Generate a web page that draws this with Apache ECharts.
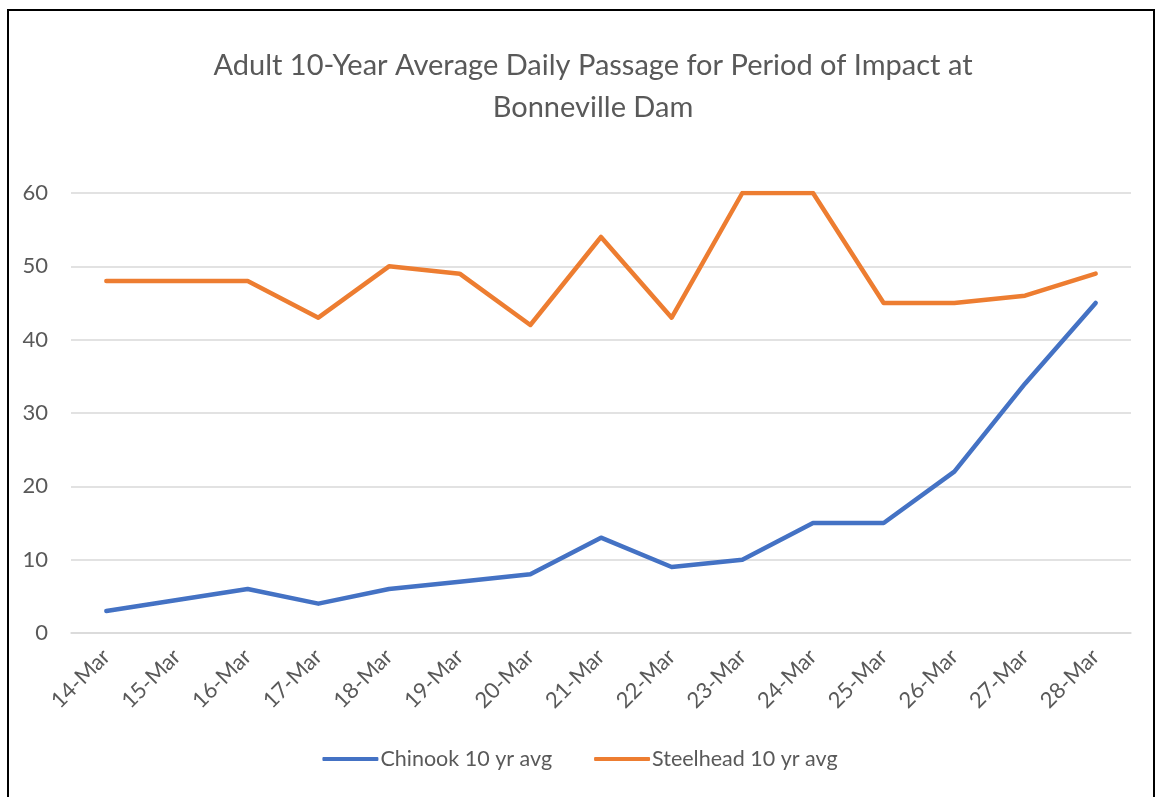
<html>
<head>
    <title>Bonneville Dam</title>
    <meta charset="utf-8" />
    <style>
        body { margin: 0; background: #fff; }
        #frame { position: absolute; left: 7px; top: 9px; width: 1144px; height: 800px; border: 2px solid #000; }
        #main { position: absolute; left: 0; top: 0; width: 1160px; height: 797px; }
    </style>
</head>
<body>
    <div id="frame"></div>
    <div id="main"></div>
    <script src="https://cdn.jsdelivr.net/npm/echarts@6/dist/echarts.min.js"></script>
    <script type="text/javascript">
        var days = ['14-Mar', '15-Mar', '16-Mar', '17-Mar', '18-Mar', '19-Mar', '20-Mar', '21-Mar',
            '22-Mar', '23-Mar', '24-Mar', '25-Mar', '26-Mar', '27-Mar', '28-Mar'];
        var chinook = [3, 4.5, 6, 4, 6, 7, 8, 13, 9, 10, 15, 15, 22, 34, 45];
        var steelhead = [48, 48, 48, 43, 50, 49, 42, 54, 43, 60, 60, 45, 45, 46, 49];

        var myChart = echarts.init(document.getElementById('main'));
        var textColor = '#595959';
        var font = 'Lato, "Open Sans", sans-serif';

        var option = {
            animation: false,
            title: {
                text: 'Adult 10-Year Average Daily Passage for Period of Impact at\nBonneville Dam',
                left: 588,
                textAlign: 'center',
                top: 40,
                textStyle: {
                    color: textColor,
                    fontFamily: font,
                    fontWeight: 'normal',
                    fontSize: 29,
                    lineHeight: 42
                }
            },
            legend: {
                bottom: 22,
                left: 'center',
                itemWidth: 56,
                itemHeight: 4,
                itemGap: 42,
                icon: 'roundRect',
                textStyle: { color: textColor, fontFamily: font, fontSize: 21.5, padding: [0, 0, 0, -3] },
                data: ['Chinook 10 yr avg', 'Steelhead 10 yr avg']
            },
            grid: {
                left: 71,
                right: 29,
                top: 193,
                bottom: 164
            },
            xAxis: {
                type: 'category',
                data: days,
                boundaryGap: true,
                axisLine: { lineStyle: { color: '#d9d9d9', width: 1.5 } },
                axisTick: { show: false },
                axisLabel: {
                    rotate: 45,
                    margin: 20,
                    color: textColor,
                    fontFamily: font,
                    fontSize: 22
                }
            },
            yAxis: {
                type: 'value',
                min: 0,
                max: 60,
                interval: 10,
                axisLine: { show: false },
                axisTick: { show: false },
                axisLabel: { color: textColor, fontFamily: font, fontSize: 22, margin: 23 },
                splitLine: { lineStyle: { color: '#d9d9d9', width: 1.5 } }
            },
            series: [
                {
                    name: 'Chinook 10 yr avg',
                    type: 'line',
                    data: chinook,
                    symbol: 'none',
                    color: '#4472C4',
                    lineStyle: { width: 4.5, cap: 'round', join: 'round' }
                },
                {
                    name: 'Steelhead 10 yr avg',
                    type: 'line',
                    data: steelhead,
                    symbol: 'none',
                    color: '#ED7D31',
                    lineStyle: { width: 4.5, cap: 'round', join: 'round' }
                }
            ]
        };

        myChart.setOption(option);
    </script>
</body>
</html>
